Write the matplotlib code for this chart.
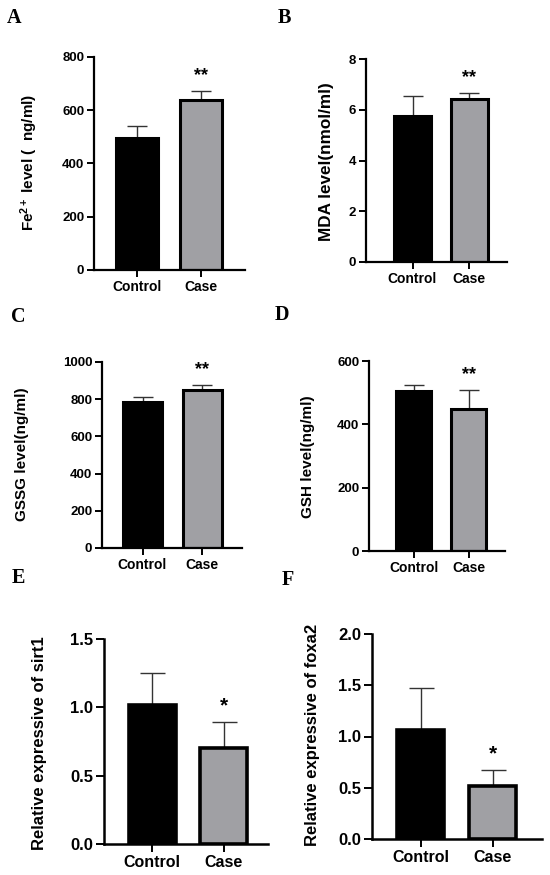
import matplotlib
matplotlib.use("Agg")
import matplotlib.pyplot as plt

plt.rcParams['font.family'] = ['Liberation Sans', 'DejaVu Sans']
plt.rcParams['font.weight'] = 'bold'
plt.rcParams['mathtext.fontset'] = 'custom'
plt.rcParams['mathtext.rm'] = 'Liberation Sans:bold'
plt.rcParams['mathtext.it'] = 'Liberation Sans:bold'
plt.rcParams['mathtext.bf'] = 'Liberation Sans:bold'

W, H = 550, 875

categories = ["Control", "Case"]

fe_means = [495, 638]
fe_err = [45, 34]
mda_means = [5.75, 6.42]
mda_err = [0.80, 0.23]
gssg_means = [785, 850]
gssg_err = [25, 28]
gsh_means = [505, 450]
gsh_err = [18, 57]
sirt1_means = [1.02, 0.70]
sirt1_err = [0.23, 0.19]
foxa2_means = [1.06, 0.52]
foxa2_err = [0.41, 0.15]

sig_marks = ["**", "**", "**", "**", "*", "*"]
panel_letters = ["A", "B", "C", "D", "E", "F"]
ylabels = ["Fe$^{2+}$ level (  ng/ml)", "MDA level(nmol/ml)", "GSSG level(ng/ml)",
           "GSH level(ng/ml)", "Relative expressive of sirt1", "Relative expressive of foxa2"]
yticks_list = [[0, 200, 400, 600, 800], [0, 2, 4, 6, 8], [0, 200, 400, 600, 800, 1000],
               [0, 200, 400, 600], [0.0, 0.5, 1.0, 1.5], [0.0, 0.5, 1.0, 1.5, 2.0]]
ytick_labels = [["0", "200", "400", "600", "800"], ["0", "2", "4", "6", "8"],
                ["0", "200", "400", "600", "800", "1000"], ["0", "200", "400", "600"],
                ["0.0", "0.5", "1.0", "1.5"], ["0.0", "0.5", "1.0", "1.5", "2.0"]]
means_all = [fe_means, mda_means, gssg_means, gsh_means, sirt1_means, foxa2_means]
errs_all = [fe_err, mda_err, gssg_err, gsh_err, sirt1_err, foxa2_err]

# layout in pixels: axis x, right end, top y, bottom y, center1, center2, bar width
layouts = [
    (94, 245, 57, 270, 137, 200.5, 42),
    (366, 507, 59, 262, 412.5, 469, 37),
    (102, 242, 362, 548, 142.5, 202, 39),
    (369, 505, 361, 551, 413.5, 468.5, 35),
    (104, 268, 639, 844, 152, 223.5, 47),
    (372, 542, 634, 839, 420.5, 492.5, 47),
]
ylabel_pos = [(29, 162), (326, 162), (22, 454), (308, 457), (40, 743), (312, 735)]
ylabel_size = [11, 12.3, 11, 11, 12, 12]
letter_pos = [(14, 18), (284, 18), (18, 317), (282, 315), (18, 578), (288, 580)]
small = [True, True, True, True, False, False]

fig = plt.figure(figsize=(W / 100, H / 100), dpi=100)
fig.patch.set_facecolor('white')

bar_colors = ['black', '#a0a0a4']

for i in range(6):
    axx, right, top, bot, c1, c2, bw = layouts[i]
    ax = fig.add_axes([axx / W, 1 - bot / H, (right - axx) / W, (bot - top) / H])
    ppu = c2 - c1
    xlo = -(c1 - axx) / ppu
    xhi = (right - c1) / ppu
    ax.set_xlim(xlo, xhi)
    yt = yticks_list[i]
    ax.set_ylim(0, yt[-1])
    means = means_all[i]
    errs = errs_all[i]
    lw = 2.2 if small[i] else 2.6
    for j in range(2):
        ax.bar(j, means[j], width=bw / ppu, color=bar_colors[j], edgecolor='black',
               linewidth=lw, zorder=2)
        ax.errorbar(j, means[j], yerr=[[0], [errs[j]]], fmt='none', ecolor='#333333',
                    elinewidth=1.0, capsize=7 if small[i] else 9, capthick=1.0, zorder=1)
    ax.annotate(sig_marks[i], xy=(1, means[1] + errs[1]), xytext=(0, 5),
                textcoords='offset points', ha='center', va='bottom',
                fontsize=13 if small[i] else 15, fontweight='bold')
    for s in ['top', 'right']:
        ax.spines[s].set_visible(False)
    for s in ['left', 'bottom']:
        ax.spines[s].set_linewidth(1.6 if small[i] else 1.8)
    ax.set_yticks(yt)
    ax.set_yticklabels(ytick_labels[i], fontsize=9.5 if small[i] else 12, fontweight='bold')
    ax.set_xticks([0, 1])
    ax.set_xticklabels(categories, fontsize=10 if small[i] else 11.5, fontweight='bold')
    ax.tick_params(axis='both', width=1.4, length=5 if small[i] else 6, pad=2)
    ax.patch.set_alpha(0)
    lx, ly = ylabel_pos[i]
    fig.text(lx / W, 1 - ly / H, ylabels[i], rotation=90, ha='center', va='center',
             fontsize=ylabel_size[i], fontweight='bold')
    px, py = letter_pos[i]
    fig.text(px / W, 1 - py / H, panel_letters[i], ha='center', va='center',
             fontsize=14.5, fontweight='bold', family='Liberation Serif')

fig.savefig('out.png', dpi=100, facecolor='white')
